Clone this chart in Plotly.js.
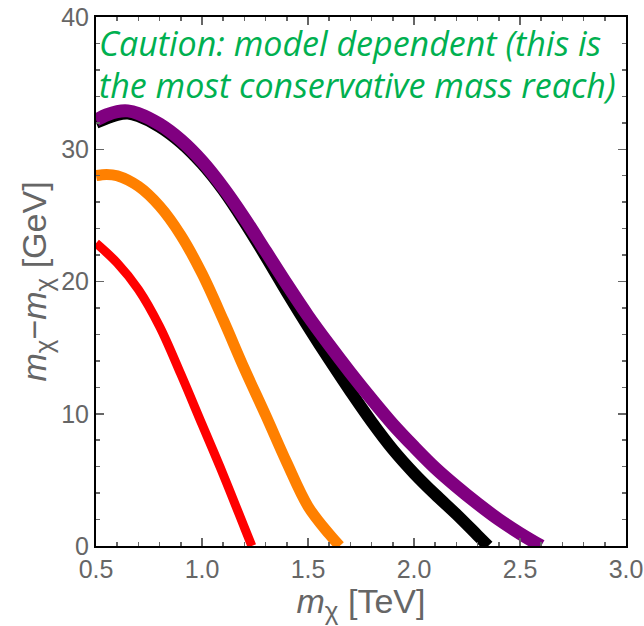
<!DOCTYPE html>
<html>
<head>
<meta charset="utf-8">
<script src="https://cdn.plot.ly/plotly-3.0.1.min.js"></script>
<style>html,body{margin:0;padding:0;background:#fff;}#chart{width:644px;height:626px;}</style>
</head>
<body>
<div id="chart"></div>
<script>
// Data
const blackX  = [0.5, 0.6, 0.65, 0.7, 0.8, 0.9, 1.0, 1.1, 1.2, 1.3, 1.4, 1.5, 1.6, 1.7, 1.8, 1.9, 2.0, 2.1, 2.2, 2.3, 2.35];
const blackY  = [32.0, 32.6, 32.7, 32.5, 31.7, 30.5, 28.9, 26.9, 24.5, 21.9, 19.2, 16.6, 14.1, 11.7, 9.4, 7.3, 5.5, 3.9, 2.4, 0.8, 0];

const purpleX = [0.5, 0.55, 0.6, 0.65, 0.7, 0.8, 0.9, 1.0, 1.1, 1.2, 1.3, 1.4, 1.5, 1.6, 1.7, 1.8, 1.9, 2.0, 2.1, 2.2, 2.3, 2.4, 2.5, 2.6];
const purpleY = [32.2, 32.6, 32.85, 32.9, 32.7, 31.9, 30.7, 29.1, 27.1, 24.8, 22.3, 19.8, 17.4, 15.2, 13.1, 11.1, 9.2, 7.5, 5.9, 4.5, 3.2, 2.0, 0.95, 0];

const orangeX = [0.5, 0.55, 0.6, 0.7, 0.8, 0.9, 1.0, 1.1, 1.2, 1.3, 1.4, 1.5, 1.6, 1.65];
const orangeY = [28.0, 28.1, 28.0, 27.2, 25.7, 23.5, 20.6, 17.1, 13.4, 9.9, 6.3, 3.0, 0.9, 0];

const redX    = [0.5, 0.6, 0.7, 0.8, 0.9, 1.0, 1.1, 1.2, 1.235];
const redY    = [22.9, 21.4, 19.4, 16.6, 13.0, 9.2, 5.4, 1.4, 0];

const xTickVals = [0.5, 1.0, 1.5, 2.0, 2.5, 3.0];
const xTickText = ['0.5', '1.0', '1.5', '2.0', '2.5', '3.0'];
const yTickVals = [0, 10, 20, 30, 40];
const yTickText = ['0', '10', '20', '30', '40'];

const noteLines = ['Caution: model dependent (this is', 'the most conservative mass reach)'];

const gray = '#666666';
const chi = '<sub><span style="font-size:26px">χ</span></sub>';

const traces = [
  {x: redX, y: redY, mode: 'lines', line: {color: '#ff0000', width: 9, shape: 'spline', smoothing: 1}},
  {x: orangeX, y: orangeY, mode: 'lines', line: {color: '#ff8000', width: 11, shape: 'spline', smoothing: 1}},
  {x: blackX, y: blackY, mode: 'lines', line: {color: '#000000', width: 12, shape: 'spline', smoothing: 1}},
  {x: purpleX, y: purpleY, mode: 'lines', line: {color: '#800080', width: 13, shape: 'spline', smoothing: 1}}
];

const axisCommon = {
  showgrid: false, zeroline: false,
  showline: true, linecolor: '#000', linewidth: 2,
  mirror: 'allticks', ticks: 'inside', ticklen: 8, tickwidth: 1.5, tickcolor: gray,
  tickfont: {family: 'Liberation Sans, Arial, sans-serif', size: 25, color: gray},
  tickmode: 'array'
};

const layout = {
  width: 644, height: 626,
  margin: {l: 96, r: 18, t: 17, b: 80},
  paper_bgcolor: '#fff', plot_bgcolor: '#fff',
  showlegend: false,
  xaxis: Object.assign({}, axisCommon, {
    range: [0.5, 3.0], tickvals: xTickVals, ticktext: xTickText,
    minor: {ticks: 'inside', ticklen: 4, tickwidth: 1.5, tickcolor: gray, dtick: 0.1, tick0: 0.5},
    title: {text: '<i>m</i>' + chi + ' [TeV]', font: {family: 'Liberation Sans, Arial, sans-serif', size: 34, color: gray}, standoff: 0}
  }),
  yaxis: Object.assign({}, axisCommon, {
    range: [0, 40], tickvals: yTickVals, ticktext: yTickText,
    minor: {ticks: 'inside', ticklen: 4, tickwidth: 1.5, tickcolor: gray, dtick: 2, tick0: 0},
    title: {text: '<i>m</i>' + chi + '−<i>m</i>' + chi + ' [GeV]', font: {family: 'Liberation Sans, Arial, sans-serif', size: 34, color: gray}, standoff: 4}
  }),
  annotations: noteLines.map((t, i) => ({
    text: '<i>' + t + '</i>', xref: 'paper', yref: 'paper',
    x: 0.002, y: [0.95, 0.871][i], xanchor: 'left', yanchor: 'middle',
    showarrow: false, align: 'left',
    font: {family: 'Open Sans, sans-serif', size: 34, color: '#00b050'}
  }))
};

Plotly.newPlot('chart', traces, layout, {displayModeBar: false, staticPlot: true});
</script>
</body>
</html>
